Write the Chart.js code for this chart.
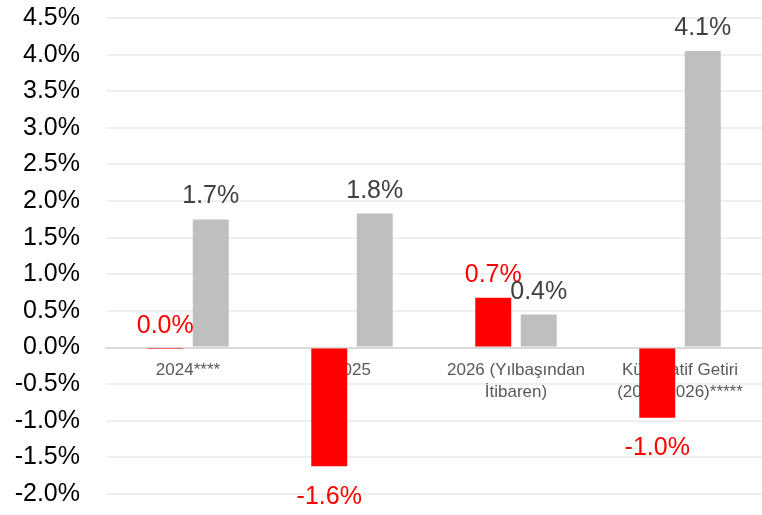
<!DOCTYPE html>
<html>
<head>
<meta charset="utf-8">
<script src="https://cdn.jsdelivr.net/npm/chart.js@4.4.1/dist/chart.umd.min.js"></script>
<style>
  html, body { margin: 0; padding: 0; background: #fff; }
  #wrap { width: 762px; height: 515px; }
</style>
</head>
<body>
<div id="wrap"><canvas id="chart"></canvas></div>
<script>
// categories + series
const categories = [
  "2024****",
  "2025",
  ["2026 (Yılbaşından", "İtibaren)"],
  ["Kümülatif Getiri", "(2024-2026)*****"]
];
const redValues = [-0.02, -1.62, 0.68, -0.96];
const grayValues = [1.75, 1.83, 0.45, 4.05];
const redLabels = ["0.0%", "-1.6%", "0.7%", "-1.0%"];
const grayLabels = ["1.7%", "1.8%", "0.4%", "4.1%"];

const FONT = "'Liberation Sans', Arial, sans-serif";

// value labels above / below bars
const valueLabels = {
  id: "valueLabels",
  afterDatasetsDraw(chart) {
    const ctx = chart.ctx;
    ctx.save();
    ctx.font = "25px " + FONT;
    ctx.textAlign = "center";
    chart.data.datasets.forEach((ds, i) => {
      const meta = chart.getDatasetMeta(i);
      meta.data.forEach((bar, j) => {
        const v = ds.data[j];
        ctx.fillStyle = ds.labelColor;
        if (v >= 0 || Math.abs(v) < 0.05) {
          ctx.textBaseline = "alphabetic";
          ctx.fillText(ds.labels[j], bar.x, Math.min(bar.y, bar.base) - 16);
        } else {
          ctx.textBaseline = "top";
          ctx.fillText(ds.labels[j], bar.x, Math.max(bar.y, bar.base) + 18);
        }
      });
    });
    ctx.restore();
  }
};

new Chart(document.getElementById("chart"), {
  type: "bar",
  data: {
    labels: categories,
    datasets: [
      {
        data: redValues,
        labels: redLabels,
        labelColor: "#ff0000",
        backgroundColor: "#ff0000",
        barPercentage: 0.79,
        categoryPercentage: 0.555
      },
      {
        data: grayValues,
        labels: grayLabels,
        labelColor: "#404040",
        backgroundColor: "#bfbfbf",
        barPercentage: 0.79,
        categoryPercentage: 0.555
      }
    ]
  },
  options: {
    responsive: true,
    maintainAspectRatio: false,
    animation: false,
    layout: { padding: { top: 18, bottom: 21, left: 0, right: 0 } },
    plugins: {
      legend: { display: false },
      tooltip: { enabled: false }
    },
    scales: {
      x: {
        position: { y: 0 },
        z: 1,
        afterFit: s => { s.height = 0; },
        grid: { display: false },
        border: { display: true, color: "#d9d9d9", width: 2 },
        ticks: {
          color: "#595959",
          padding: 4,
          font: { size: 17, family: FONT, lineHeight: 1.3 }
        }
      },
      y: {
        min: -2,
        max: 4.5,
        afterFit: s => { s.width = 106; s.paddingTop = 0; s.paddingBottom = 0; },
        grid: { color: "#efefef", lineWidth: 2, drawTicks: false },
        border: { display: false },
        ticks: {
          stepSize: 0.5,
          padding: 26,
          color: "#000",
          font: { size: 25, family: FONT },
          callback: v => v.toFixed(1) + "%"
        }
      }
    }
  },
  plugins: [valueLabels]
});
</script>
</body>
</html>
